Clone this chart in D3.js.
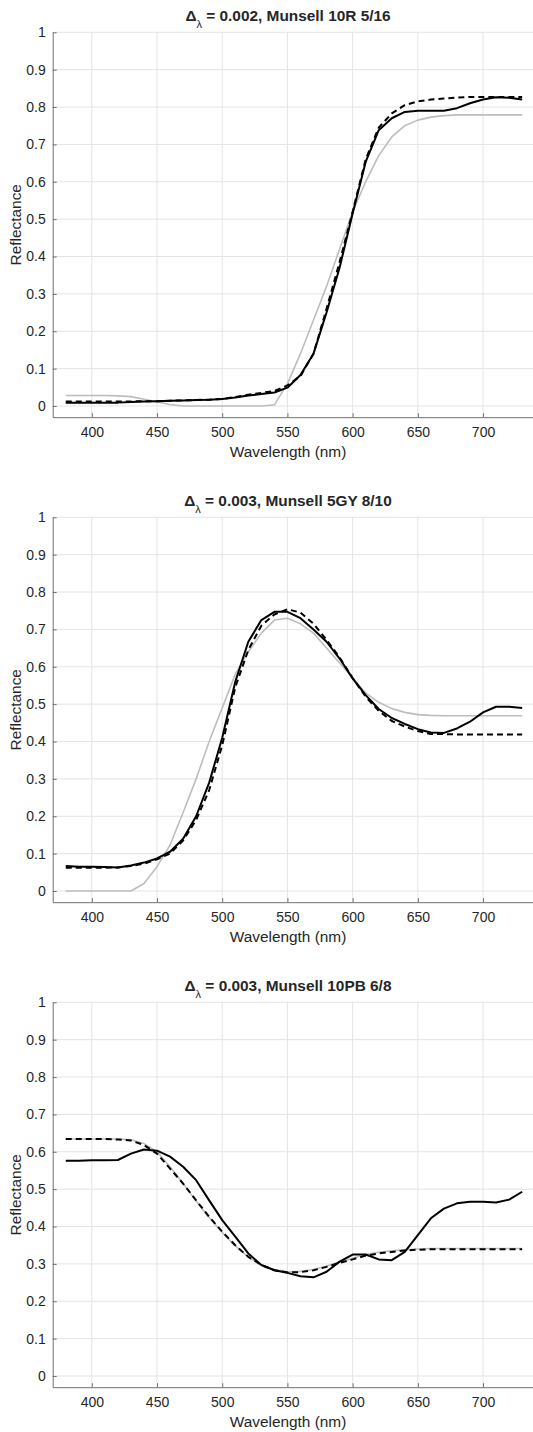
<!DOCTYPE html>
<html>
<head>
<meta charset="utf-8">
<script src="https://cdn.jsdelivr.net/npm/d3@7"></script>
<style>
  body { margin: 0; background: #fff; }
  text { font-family: "Liberation Sans", Arial, sans-serif; fill: #262626; }
</style>
</head>
<body>
<div id="chart"></div>
<script>
// wavelengths sampled every 10 nm
var wavelengths = [380,390,400,410,420,430,440,450,460,470,480,490,500,510,520,530,540,550,
  560,570,580,590,600,610,620,630,640,650,660,670,680,690,700,710,720,730]

var titles = ["0.002, Munsell 10R 5/16", "0.003, Munsell 5GY 8/10", "0.003, Munsell 10PB 6/8"]

var xTicks = [400,450,500,550,600,650,700]
var yTicks = [0,0.1,0.2,0.3,0.4,0.5,0.6,0.7,0.8,0.9,1]

// panel 1 - 10R 5/16
var solid1 = [0.009,0.009,0.009,0.009,0.009,0.011,0.012,0.013,0.014,0.015,0.016,0.017,0.019,0.023,0.028,0.032,0.036,0.049,
  0.083,0.14,0.25,0.37,0.515,0.653,0.738,0.77,0.787,0.79,0.79,0.79,0.797,0.81,0.82,0.826,0.825,0.82]
var dashed1 = [0.012,0.012,0.012,0.012,0.012,0.012,0.013,0.013,0.014,0.015,0.016,0.017,0.019,0.024,0.03,0.035,0.04,0.055,
  0.08,0.14,0.26,0.385,0.52,0.66,0.745,0.783,0.805,0.815,0.82,0.823,0.825,0.827,0.827,0.827,0.827,0.827]
var gray1 = [0.028,0.028,0.028,0.028,0.027,0.025,0.018,0.011,0.004,0.0,0.0,0.0,0.0,0.0,0.0,0.0,0.003,0.06,
  0.14,0.23,0.32,0.42,0.52,0.6,0.67,0.72,0.75,0.765,0.773,0.777,0.779,0.779,0.779,0.779,0.779,0.779]

// panel 2 - 5GY 8/10
var solid2 = [0.067,0.065,0.065,0.064,0.063,0.068,0.076,0.087,0.105,0.14,0.2,0.29,0.41,0.56,0.667,0.725,0.747,0.747,
  0.73,0.70,0.667,0.622,0.569,0.524,0.487,0.463,0.447,0.433,0.424,0.423,0.435,0.453,0.478,0.493,0.493,0.49]
var dashed2 = [0.062,0.062,0.062,0.062,0.063,0.067,0.073,0.085,0.1,0.135,0.19,0.27,0.39,0.545,0.645,0.71,0.74,0.754,
  0.745,0.715,0.672,0.625,0.57,0.52,0.482,0.455,0.44,0.428,0.42,0.42,0.419,0.419,0.419,0.419,0.419,0.419]
var gray2 = [0,0,0,0,0,0,0.02,0.065,0.123,0.21,0.3,0.4,0.49,0.58,0.64,0.69,0.725,0.73,
  0.715,0.69,0.65,0.61,0.57,0.53,0.505,0.488,0.478,0.472,0.47,0.469,0.469,0.469,0.469,0.469,0.469,0.469]

// panel 3 - 10PB 6/8
var solid3 = [0.576,0.576,0.577,0.577,0.578,0.595,0.606,0.603,0.587,0.56,0.524,0.47,0.417,0.373,0.328,0.297,0.283,0.276,
  0.267,0.264,0.279,0.306,0.325,0.325,0.312,0.31,0.332,0.377,0.422,0.448,0.462,0.466,0.466,0.464,0.472,0.493]
var dashed3 = [0.634,0.634,0.634,0.634,0.633,0.63,0.618,0.595,0.555,0.515,0.47,0.426,0.386,0.35,0.319,0.297,0.283,0.277,
  0.278,0.283,0.292,0.303,0.312,0.322,0.328,0.332,0.336,0.338,0.339,0.339,0.339,0.339,0.339,0.339,0.339,0.339]
var gray3 = [0.634,0.634,0.634,0.634,0.634,0.632,0.622,0.6,0.56,0.515,0.468,0.424,0.384,0.348,0.318,0.297,0.285,0.279,
  0.28,0.285,0.294,0.305,0.315,0.325,0.331,0.335,0.338,0.34,0.341,0.341,0.341,0.341,0.341,0.341,0.341,0.341]

var solids = [solid1, solid2, solid3],
    dasheds = [dashed1, dashed2, dashed3],
    grays = [gray1, gray2, gray3]

var W = 533, H = 1432, panelStep = 485

var svg = d3.select("#chart").append("svg").attr("width", W).attr("height", H)

var x = d3.scaleLinear().domain([370, 740]).range([52.7, 535.2])
var y = d3.scaleLinear().domain([-0.03, 1]).range([417.2, 32.3])

var line = d3.line()
  .x(function(d){ return x(d[0]) })
  .y(function(d){ return y(d[1]) })

titles.forEach(function(title, i){
  var g = svg.append("g").attr("transform", "translate(0," + (i * panelStep) + ")")

  // grid
  g.append("g").selectAll("line").data(xTicks).enter().append("line")
    .attr("x1", function(d){ return x(d) }).attr("x2", function(d){ return x(d) })
    .attr("y1", y(1)).attr("y2", y(-0.03))
    .style("stroke", "#e4e4e4").style("stroke-width", 1)
  g.append("g").selectAll("line").data(yTicks).enter().append("line")
    .attr("x1", x(370)).attr("x2", x(740))
    .attr("y1", function(d){ return y(d) }).attr("y2", function(d){ return y(d) })
    .style("stroke", "#e4e4e4").style("stroke-width", 1)

  // curves
  var series = [
    {vals: grays[i], color: "#bdbdbd", width: 1.6, dash: null},
    {vals: solids[i], color: "#000", width: 2, dash: null},
    {vals: dasheds[i], color: "#000", width: 2, dash: "6,4"}
  ]
  series.forEach(function(s){
    g.append("path")
      .datum(wavelengths.map(function(w, j){ return [w, s.vals[j]] }))
      .attr("d", line)
      .style("fill", "none")
      .style("stroke", s.color)
      .style("stroke-width", s.width)
      .style("stroke-linejoin", "round")
      .style("stroke-dasharray", s.dash)
  })

  // axes
  var xAxis = g.append("g")
    .attr("transform", "translate(0," + y(-0.03) + ")")
    .call(d3.axisBottom(x).tickValues(xTicks).tickSize(-4).tickSizeOuter(0).tickPadding(10))
  var yAxis = g.append("g")
    .attr("transform", "translate(" + x(370) + ",0)")
    .call(d3.axisLeft(y).tickValues(yTicks).tickFormat(d3.format("~g")).tickSize(-4).tickSizeOuter(0).tickPadding(7))

  ;[xAxis, yAxis].forEach(function(a){
    a.select(".domain").style("stroke", "#707070")
    a.selectAll(".tick line").style("stroke", "#707070")
    a.selectAll("text").style("font-size", "14px").style("fill", "#262626")
      .style("font-family", "'Liberation Sans', Arial, sans-serif")
  })

  // labels
  g.append("text")
    .attr("x", 288).attr("y", 456.5)
    .attr("text-anchor", "middle")
    .style("font-size", "15.4px")
    .text("Wavelength (nm)")

  g.append("text")
    .attr("transform", "translate(21," + ((y(1) + y(-0.03)) / 2) + ") rotate(-90)")
    .attr("text-anchor", "middle")
    .style("font-size", "15.4px")
    .text("Reflectance")

  var t = g.append("text")
    .attr("x", 288).attr("y", 21)
    .attr("text-anchor", "middle")
    .style("font-size", "15.4px")
    .style("font-weight", "bold")
  t.append("tspan").text("\u0394")
  t.append("tspan").attr("dy", 7).style("font-size", "11px").style("font-weight", "normal").text("\u03bb")
  t.append("tspan").attr("dy", -7).text(" = " + title)
})
</script>
</body>
</html>
